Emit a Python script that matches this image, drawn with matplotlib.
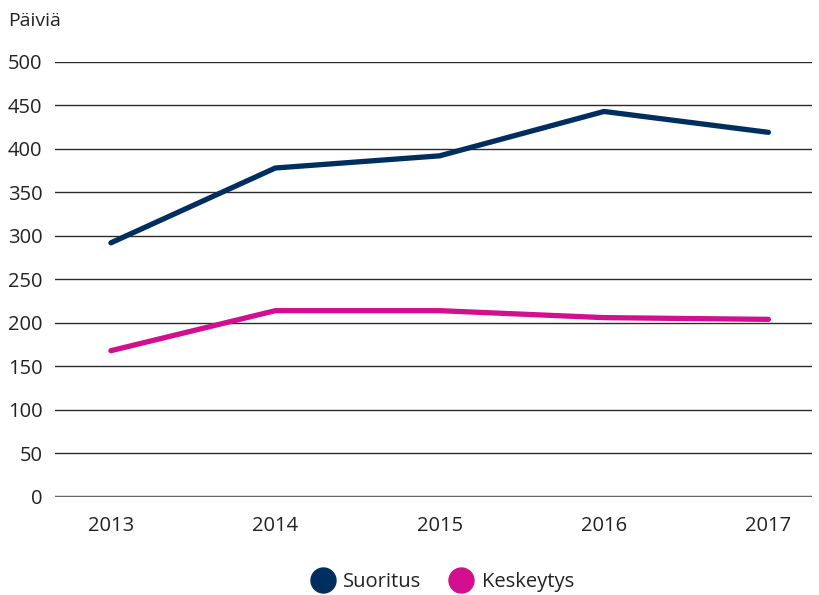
import matplotlib.pyplot as plt
from matplotlib.lines import Line2D

# data
years = [2013, 2014, 2015, 2016, 2017]
suoritus = [292, 378, 392, 443, 419]
keskeytys = [168, 214, 214, 206, 204]
y_ticks = [0, 50, 100, 150, 200, 250, 300, 350, 400, 450, 500]

navy = "#002f5f"
magenta = "#d10f8f"

plt.rcParams['font.family'] = ['Open Sans', 'DejaVu Sans']

fig = plt.figure(figsize=(8.19, 5.95), dpi=100)
ax = fig.add_axes([0.067, 0.165, 0.925, 0.731])

for t in y_ticks:
    if t == 0:
        ax.axhline(t, color="#666666", lw=2.5, zorder=1)
    else:
        ax.axhline(t, color="#2b2b2b", lw=1.0, zorder=1)

ax.plot(years, suoritus, color=navy, lw=3.8, solid_capstyle="round", zorder=3)
ax.plot(years, keskeytys, color=magenta, lw=3.8, solid_capstyle="round", zorder=3)

ax.set_xlim(2012.659, 2017.268)
ax.set_ylim(0, 500)
ax.set_yticks(y_ticks)
ax.set_xticks(years)
ax.set_xticklabels([str(y) for y in years])
ax.tick_params(axis="both", length=0, labelsize=14.5, colors="#222222")
ax.tick_params(axis="y", pad=9)
ax.tick_params(axis="x", pad=14)
for s in ax.spines.values():
    s.set_visible(False)

fig.text(0.01, 0.965, "Päiviä", fontsize=14, color="#222222", va="center", ha="left")

handles = [
    Line2D([], [], marker="o", ls="none", markersize=18, color=navy, label="Suoritus"),
    Line2D([], [], marker="o", ls="none", markersize=18, color=magenta, label="Keskeytys"),
]
leg = fig.legend(handles=handles, loc="center", bbox_to_anchor=(0.54, 0.022),
                 ncol=2, frameon=False, fontsize=14.5, handletextpad=0.4,
                 columnspacing=1.4, handlelength=1.2)
for t in leg.get_texts():
    t.set_color("#222222")

fig.savefig("out.png", dpi=100)
